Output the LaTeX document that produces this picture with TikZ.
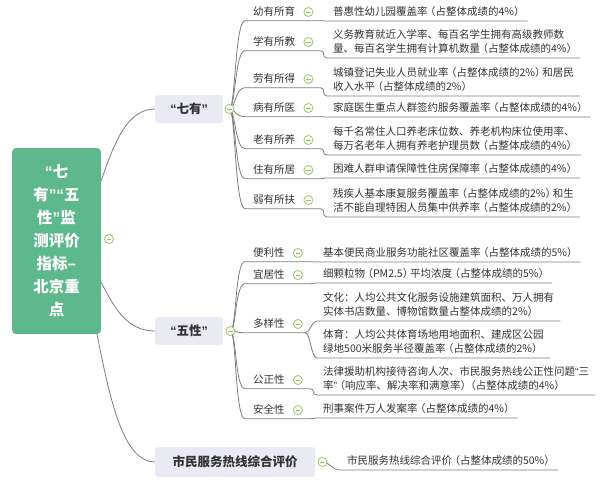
\documentclass[tikz,border=0pt]{standalone}
\usepackage{fontspec}
\setmainfont{Noto Sans CJK SC}
\newfontfamily\qf{Liberation Sans}
\newcommand\zoq{{\qf “}}
\newcommand\zcq{{\qf ”}}
\newcommand\zlp{{\kern0.25em\addfontfeature{RawFeature=+halt}（}}
\newcommand\zrp{{\addfontfeature{RawFeature=+halt}）\kern0.2em}}
\usetikzlibrary{calc,backgrounds}
\definecolor{rootgreen}{HTML}{5DB98B}
\definecolor{boxgray}{HTML}{E9EAF2}
\definecolor{linegray}{HTML}{7C7C7C}
\definecolor{txt}{HTML}{333333}
\definecolor{cgreen}{HTML}{94C964}
\begin{document}
\begin{tikzpicture}[x=1pt,y=-1pt,
  ln/.style={draw=linegray, line width=0.8pt},
  rootbox/.style={fill=rootgreen, rounded corners=4pt, text=white, align=center,
    font=\fontsize{15.5}{23}\selectfont\bfseries, minimum width=89pt, minimum height=186pt, inner sep=0pt},
  mainbox/.style={fill=boxgray, rounded corners=3pt, text=txt, anchor=west,
    font=\fontsize{12.5}{15}\selectfont\bfseries, inner sep=0pt},
  lbl/.style={font=\fontsize{10.5}{12}\selectfont, text=txt, inner xsep=8pt, inner ysep=4pt,
    text height=8pt, text depth=1pt, anchor=west},
  det/.style={font=\fontsize{10.5}{14.5}\selectfont, text=txt, inner xsep=6pt, inner ysep=4pt,
    align=left, anchor=south west},
  fold/.style={circle, draw=cgreen, fill=white, line width=0.8pt, minimum size=9pt, inner sep=0pt,
    path picture={\draw[cgreen, line width=0.8pt] ($(path picture bounding box.center)+(-2.4pt,0)$) -- ++(4.8pt,0);}}
  ]
\useasboundingbox (0,0) rectangle (600,480);

% root
\node[rootbox] (root) at (56.5,241) {\zoq 七\\有\zcq\zoq 五\\性\zcq 监\\测评价\\指标–\\北京重\\点};
\node[fold] (rootc) at (109,239) {};

% main branches
\node[mainbox, minimum width=68pt, minimum height=28pt] (qy) at (155,109) {\zoq 七有\zcq};
\node[mainbox, minimum width=68pt, minimum height=28pt] (wx) at (155,331) {\zoq 五性\zcq};
\node[mainbox, minimum width=160pt, minimum height=30pt] (rx) at (155,462) {市民服务热线综合评价};
\node[fold] (qyc) at ($(qy.east)+(6,0)$) {};
\node[fold] (wxc) at ($(wx.east)+(7,0)$) {};
\node[fold] (rxc) at ($(rx.east)+(7,0)$) {};

% 七有 children
\node[lbl] (a1) at (245,12) {幼有所育};
\node[lbl] (a2) at (245,42) {学有所教};
\node[lbl] (a3) at (245,79) {劳有所得};
\node[lbl] (a4) at (245,108) {病有所医};
\node[lbl] (a5) at (245,140) {老有所养};
\node[lbl] (a6) at (245,170) {住有所居};
\node[lbl] (a7) at (245,200) {弱有所扶};
\foreach \i in {a1,a2,a3,a4,a5,a6,a7} {\node[fold] (\i c) at ($(\i.east)+(5,0)$) {};}

\node[det] (a1d) at (327,21) {普惠性幼儿园覆盖率\zlp 占整体成绩的4\%\zrp};
\node[det] (a2d) at (327,58) {义务教育就近入学率、每百名学生拥有高级教师数\\量、每百名学生拥有计算机数量\zlp 占整体成绩的4\%\zrp};
\node[det] (a3d) at (327,96) {城镇登记失业人员就业率\zlp 占整体成绩的2\%\zrp 和居民\\收入水平\zlp 占整体成绩的2\%\zrp};
\node[det] (a4d) at (327,117) {家庭医生重点人群签约服务覆盖率\zlp 占整体成绩的4\%\zrp};
\node[det] (a5d) at (327,155) {每千名常住人口养老床位数、养老机构床位使用率、\\每万名老年人拥有养老护理员数\zlp 占整体成绩的4\%\zrp};
\node[det] (a6d) at (327,178) {困难人群申请保障性住房保障率\zlp 占整体成绩的4\%\zrp};
\node[det] (a7d) at (327,217) {残疾人基本康复服务覆盖率\zlp 占整体成绩的2\%\zrp 和生\\活不能自理特困人员集中供养率\zlp 占整体成绩的2\%\zrp};

% 五性 children
\node[lbl] (b1) at (245,253) {便利性};
\node[lbl] (b2) at (245,275) {宜居性};
\node[lbl] (b3) at (245,324) {多样性};
\node[lbl] (b4) at (245,380) {公正性};
\node[lbl] (b5) at (245,410) {安全性};
\foreach \i in {b1,b2,b3,b4,b5} {\node[fold] (\i c) at ($(\i.east)+(5,0)$) {};}

\node[det] (b1d) at (317,262) {基本便民商业服务功能社区覆盖率\zlp 占整体成绩的5\%\zrp};
\node[det] (b2d) at (317,283) {细颗粒物\zlp PM2.5\zrp 平均浓度\zlp 占整体成绩的5\%\zrp};
\node[det] (b3d) at (317,321) {文化：人均公共文化服务设施建筑面积、万人拥有\\实体书店数量、博物馆数量占整体成绩的2\%\zrp};
\node[det] (b3e) at (317,358) {体育：人均公共体育场地用地面积、建成区公园\\绿地500米服务半径覆盖率\zlp 占整体成绩的2\%\zrp};
\node[det] (b4d) at (317,395) {法律援助机构接待咨询人次、市民服务热线公正性问题\zoq 三\\率\zcq\zlp 响应率、解决率和满意率\zrp\zlp 占整体成绩的4\%\zrp};
\node[det] (b5d) at (317,418) {刑事案件万人发案率\zlp 占整体成绩的4\%\zrp};

% 市民服务热线
\node[det] (r1d) at (341,470) {市民服务热线综合评价\zlp 占整体成绩的50\%\zrp};

\begin{scope}[on background layer]
  \draw[ln] (root.center) .. controls +(48,0) and +(-55,0) .. (qy.west);
  \draw[ln] (root.center) .. controls +(48,0) and +(-55,0) .. (wx.west);
  \draw[ln] (root.center) .. controls +(46,0) and +(-60,0) .. (rx.west);
  \foreach \i in {a1,a2,a3,a4,a5,a6,a7} {
    \draw[ln] (qyc.center) .. controls +(6,0) and +(-10,0) .. (\i.south west)
      -- ($(\i.south west -| \i c.east)+(7,0)$) coordinate (\i e)
      .. controls +(6,0) and +(-6,0) .. (\i d.south west) -- (\i d.south east);
  }
  \foreach \i in {b1,b2,b4,b5} {
    \draw[ln] (wxc.center) .. controls +(6,0) and +(-10,0) .. (\i.south west)
      -- ($(\i.south west -| \i c.east)+(7,0)$) coordinate (\i e)
      .. controls +(6,0) and +(-6,0) .. (\i d.south west) -- (\i d.south east);
  }
  \draw[ln] (wxc.center) .. controls +(6,0) and +(-10,0) .. (b3.south west)
    -- ($(b3.south west -| b3c.east)+(2,0)$) coordinate (b3e0);
  \draw[ln] (b3e0) .. controls +(6,0) and +(-6,0) .. (b3d.south west) -- (b3d.south east);
  \draw[ln] (b3e0) .. controls +(6,0) and +(-6,0) .. (b3e.south west) -- (b3e.south east);
  \draw[ln] (rxc.center) .. controls +(8,0) and +(-10,0) .. (r1d.south west) -- (r1d.south east);
\end{scope}
\end{tikzpicture}
\end{document}
